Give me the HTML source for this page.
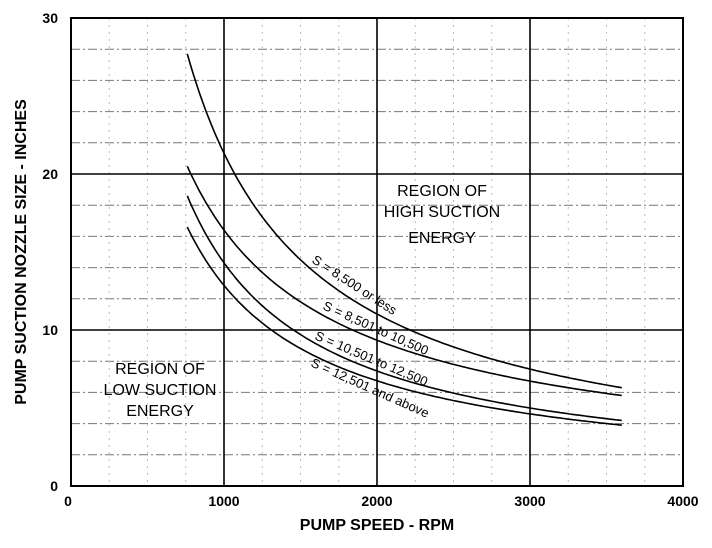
<!DOCTYPE html>
<html><head><meta charset="utf-8"><style>
body{margin:0;background:#fff;}
svg text{font-family:"Liberation Sans",Arial,sans-serif;fill:#000;}
</style></head><body>
<svg id="s" width="712" height="543" viewBox="0 0 712 543" xmlns="http://www.w3.org/2000/svg">
<g id="grid"></g>
<rect x="71" y="18" width="612" height="468" fill="none" stroke="#000" stroke-width="2"/>
<g stroke="#000" stroke-width="1.6">
<line x1="224" y1="18" x2="224" y2="486"/>
<line x1="377" y1="18" x2="377" y2="486"/>
<line x1="530" y1="18" x2="530" y2="486"/>
<line x1="71" y1="174" x2="683" y2="174"/>
<line x1="71" y1="330" x2="683" y2="330"/>
</g>
<g id="curves" fill="none" stroke="#000" stroke-width="1.6"></g>
<g font-weight="bold" font-size="14" text-anchor="end">
<text x="58" y="23">30</text><text x="58" y="179">20</text><text x="58" y="335">10</text><text x="58" y="491">0</text>
</g>
<g font-weight="bold" font-size="14" text-anchor="middle">
<text x="68" y="506">0</text><text x="224" y="506">1000</text><text x="377" y="506">2000</text><text x="530" y="506">3000</text><text x="683" y="506">4000</text>
</g>
<text x="377" y="530" font-size="16" font-weight="bold" text-anchor="middle">PUMP SPEED - RPM</text>
<text transform="translate(26,252) rotate(-90)" font-size="16" font-weight="bold" text-anchor="middle">PUMP SUCTION NOZZLE SIZE - INCHES</text>
<g font-size="16" text-anchor="middle">
<text x="442" y="196">REGION OF</text><text x="442" y="217">HIGH SUCTION</text><text x="442" y="243">ENERGY</text>
<text x="160" y="374">REGION OF</text><text x="160" y="395">LOW SUCTION</text><text x="160" y="416">ENERGY</text>
</g>
<g font-size="13">
<text transform="translate(311,262) rotate(33)">S = 8,500 or less</text>
<text transform="translate(322,309) rotate(24)">S = 8,501 to 10,500</text>
<text transform="translate(314,339) rotate(23)">S = 10,501 to 12,500</text>
<text transform="translate(310,366) rotate(24)">S = 12,501 and above</text>
</g>
</svg>
<script>
var X=function(v){return 71+v*0.153};var Y=function(v){return 486-v*15.6};
var g=document.getElementById('grid'),h='';
for(var v=2;v<30;v+=2){if(v%10)h+='<line x1="71" x2="683" y1="'+Y(v)+'" y2="'+Y(v)+'" stroke="#777" stroke-width="1" stroke-dasharray="9,3,2,3"/>';}
for(var r=250;r<4000;r+=250){if(r%1000)h+='<line y1="18" y2="486" x1="'+X(r)+'" x2="'+X(r)+'" stroke="#bbb" stroke-width="1" stroke-dasharray="2,5"/>';}
g.innerHTML=h;
var cs=[[27.7,6.3],[20.5,5.8],[18.6,4.2],[16.6,3.9]],c='';
cs.forEach(function(p){var n=Math.log(p[0]/p[1])/Math.log(3600/760);var d='';
for(var x=760;x<=3600;x+=20){var y=p[0]*Math.pow(760/x,n);d+=(d?'L':'M')+X(x).toFixed(1)+','+Y(y).toFixed(1);}
c+='<path d="'+d+'"/>';});
document.getElementById('curves').innerHTML=c;
</script>
</body></html>
